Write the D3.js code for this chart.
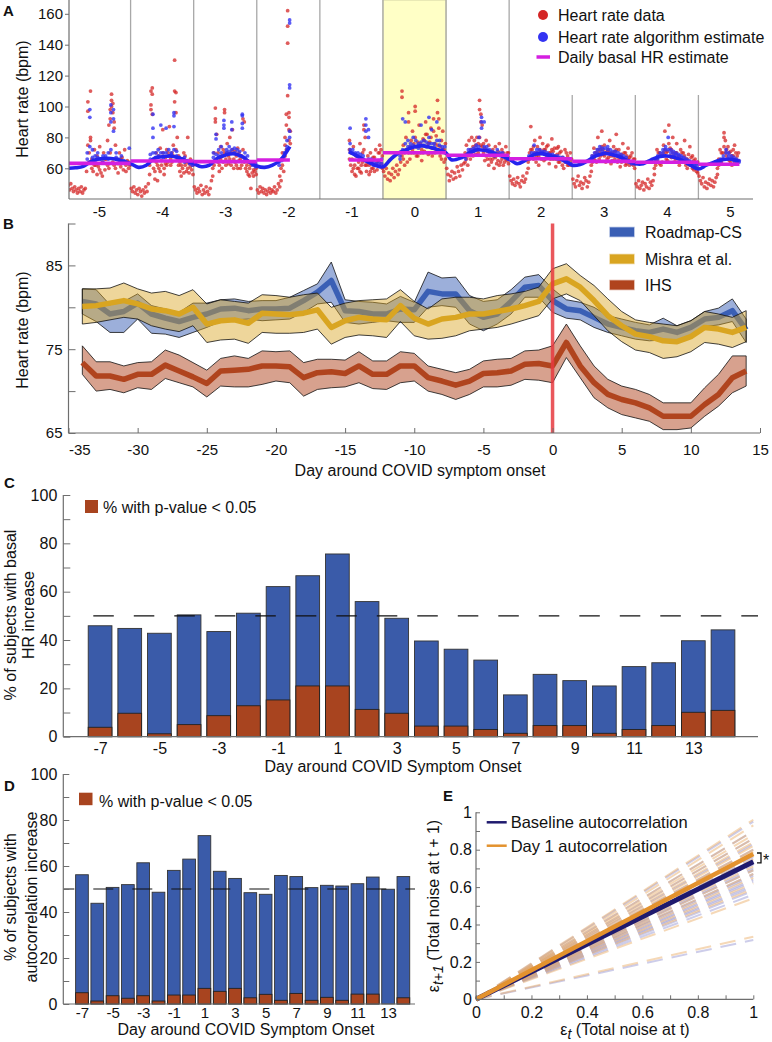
<!DOCTYPE html>
<html><head><meta charset="utf-8">
<script src="https://cdn.jsdelivr.net/npm/d3@7"></script>
<style>
body{margin:0;background:#fff}
svg{display:block}
text{font-family:"Liberation Sans",Arial,Helvetica,sans-serif;fill:#111}
</style></head>
<body><svg id="c" width="772" height="1042"></svg>
<script>
const N = null;
// ---------------- Panel A data ----------------
const aDays = [-5,-4,-3,-2,-1,0,1,2,3,4,5];
const aRedStart = [0,0,0,0,22,0,0,0,0,0,0];           // first half-hour slot of each day
const aRed = [
 [49,46,50,47,45,48,46,44,47,45,48,44,46,47,58,[103,97,75],[70,64],[110,80,78],[66,60],58,[72,62],62,[56,68],61,[74,59],57,[64,55],70,[59,66],66,[78,62],[88,60],[98,92,70],[108,104,100],[102,96,64],[90,86,62],[75,60],66,[63,57],70,[61,66],67,[59,64],72,[62,58],65,[60,64],62],
 [47,45,48,44,46,43,47,45,42,46,44,48,45,50,[62,56],[110,101,98],[112,108,95],[66,60],[53,58],[70,64],[62,52],[68,60],[73,58],[65,62],[85,70],[60,56],[67,63],[72,62],[64,70],[87,68],[66,62],[70,64],[75,68],[130,110,103],[109,96,72],[80,66],[68,62],[58,64],[55,62],[66,60],[70,57],[62,68],[58,64],[80,60],[63,57],[66,61],[59,64],[62,56]],
 [48,46,44,47,45,49,43,46,44,48,45,43,47,52,[60,55],[70,62],[99,92,90],[82,66],[64,70],[62,58],[74,66],[60,68],[72,64],[98,96,70],[66,62],[76,70],[63,68],[80,66],[70,62],[85,72],[66,60],[71,64],[62,68],[73,60],[65,70],[60,66],[68,62],[92,72],[90,64],[66,60],[58,62],[64,56],[60,55],[47,62],[57,63],[59,55],[62,58],[56,60]],
 [46,44,48,45,47,44,46,43,45,47,44,46,45,48,44,46,50,[55,48],[60,52],[62,70],[66,58],[75,80,68],[88,95,72],[162,152,141,107],[96,93,85,78],[84,76]],
 [[78,72,66],[70,62],[58,66],[74,60],[62,56],[55,68],[68,60],[60,64],[76,58],[57,62],[64,70],[85,88,72],[80,62],[62,58],[68,64],[56,62],[70,58],[64,60],[60,67],[67,58],[72,62],[59,64],[65,70],[70,75],[63,72],[68,60]],
 [58,55,60,53,57,52,56,60,54,58,62,56,59,64,[110,106,68],[75,66],[62,70],[80,72],[72,64],[96,90,70],[66,74],[78,70],[84,72],[70,76],[100,97,80],[74,68],[68,77],[88,74],[76,70],[65,72],[79,70],[71,78],[90,82],[82,74],[69,76],[77,70],[86,80],[73,68],[92,84],[70,76],[81,72],[104,96,75],[92,86],[68,74],[78,66],[84,72],[72,64],[76,66]],
 [60,56,52,55,58,53,57,54,61,58,55,62,59,63,[70,64],[75,66],[68,62],[78,70],[66,72],[80,69],[74,68],[72,78],[69,75],[80,72],[76,70],[104,98,80],[95,90,75],[88,74],[76,70],[65,73],[78,68],[71,66],[62,75],[66,70],[70,64],[72,66],[60,68],[67,74],[63,69],[65,71],[76,62],[69,64],[72,66],[62,70],[68,64],[74,66],[65,70],[70,63]],
 [55,52,50,53,49,51,54,50,48,52,55,51,53,57,[64,60],[70,66],[87,72],[72,68],[66,74],[78,70],[68,64],[74,70],[62,68],[80,72],[70,66],[76,70],[65,72],[72,66],[68,74],[75,69],[63,70],[70,66],[79,72],[66,71],[73,68],[61,66],[69,73],[74,64],[64,70],[71,66],[67,62],[60,66],[72,64],[65,70],[68,62],[62,66],[70,64],[66,62]],
 [53,50,48,52,55,49,51,47,50,54,52,48,51,55,[62,58],[68,64],[73,66],[65,70],[70,64],[80,72],[66,70],[72,68],[84,74],[69,72],[75,68],[64,70],[71,66],[67,72],[78,70],[63,68],[70,65],[74,68],[66,71],[82,72],[68,64],[72,66],[61,68],[69,64],[76,66],[65,70],[70,62],[63,68],[73,66],[67,62],[64,68],[70,63],[62,66],[66,60]],
 [50,48,52,47,49,51,46,50,48,53,47,51,49,52,[60,56],[66,62],[72,66],[64,70],[70,63],[62,68],[68,64],[75,70],[84,72],[66,70],[71,65],[88,76],[73,68],[67,72],[80,70],[64,68],[70,66],[76,70],[68,64],[62,68],[72,66],[65,70],[70,64],[78,68],[66,62],[60,66],[69,64],[74,62],[63,67],[68,60],[65,59],[61,66],[58,63],[64,57]],
 [55,52,50,54,48,51,47,50,53,49,52,48,51,54,[60,56],[66,62],[72,64],[64,70],[70,66],[83,80,74],[78,70],[68,72],[74,66],[65,70],[71,64],[62,68],[68,72],[75,64],[66,70],[63,68],[70,65]]
];
const aBlueStart = [7,7,7,8,11,6,7,7,7,7,7];            // first hourly slot of each day
const aBlue = [
 [[66,70],[98,93,74],[72,67],[65,68],[67,70],66,[64,68],68,[70,66],[101,96,90,72],[98,92,84],[70,67],66,[65,68],65,64,[63,73]],
 [[66,69],[95,86,80,70],[70,67],[72,68],[88,70],[70,67],[86,70],[72,68],[70,69],[96,94,87,72],[71,68],[67,65],66,[64,67],65,63,[64,62]],
 [[67,70],[82,79,69],[72,68],[70,74],[91,88,86],[72,70],[74,71],[90,85,72],[73,70],[72,69],[71,68],[95,94,89,86],[70,67],[68,65],64,62,[61,63]],
 [[62,64],[66,65],[70,68],[74,78,72],[156,154,114,112,84,80]],
 [[86,76,72],[72,70],[70,69],[68,70],[67,69],[66,68],[92,88,84],[85,80,66],[66,64],[64,62],[63,62],[62,64],[63,66]],
 [[68,66],[92,72],[90,76],[74,78],[76,74],[80,75],[78,74],[76,73],[88,77],[75,78],[77,74],[93,80,76],[85,76],[76,74],[90,78],[78,75],[72,74],[74,70]],
 [[66,68],[70,72],[72,71],[71,73],[73,75],[80,74],[93,90,86],[90,74],[74,72],[72,70],[71,69],[70,68],[72,69],[69,70],[70,68],[68,67],[67,66]],
 [[68,66],[70,68],[75,70],[72,70],[70,72],[71,70],[69,71],[70,68],[68,69],[69,67],[67,68],[68,66],[66,67],[67,65],[65,64],64,63],
 [[66,68],[68,70],[70,72],[72,74],[71,73],[73,70],[72,74],[70,72],[71,69],[69,71],[68,70],[67,69],[66,68],[67,65],[65,64],[64,63],63],
 [[64,66],[66,68],[68,70],[70,72],[74,72],[80,72],[70,72],[71,69],[69,70],[68,69],[67,68],[66,67],[65,66],[64,65],[63,64],[62,63],[60,62]],
 [[63,65],[64,66],[66,68],[72,70],[68,70],[66,68],[65,67],[66,64],[64,65]]
];
const aTrend = [   // smooth algorithm estimate: [hour, bpm]
 [[0,60],[3,60.3],[6,61.2],[9,64.5],[12,66],[15,66.5],[18,66],[21,64.5],[24,63]],
 [[3,60.6],[6,62],[9,66.5],[12,67.5],[15,68],[18,67],[21,65],[24,63]],
 [[3,61],[6,62],[9,66.5],[12,68.5],[15,69.4],[18,68],[21,64.3],[24,61.5]],
 [[3,60.6],[6,62],[9,65.4],[11,69.8],[12.6,74]],
 [[11,70.8],[14,68],[18,64.3],[21,62],[24,61]],
 [[3,66],[6,70],[9,72],[12,74],[15,74.5],[18,73.5],[21,72],[24,70]],
 [[2,65.5],[6,67],[9,70],[12,72],[15,71.5],[18,70],[21,68],[24,66]],
 [[3,63],[6,65],[9,68.5],[12,69.5],[15,68.5],[18,67],[21,65],[24,62]],
 [[3,62.5],[6,65],[9,68],[12,69.5],[15,69],[18,67.5],[21,65],[24,63]],
 [[3,63],[6,65.5],[9,67.5],[12,68],[15,67],[18,65],[21,62],[24,59.5]],
 [[3,62],[6,64],[9,65.5],[12,66],[15.6,64.5]]
];
const aBasal = [63.2,64.7,64.3,65.4,65.4,70.1,68.4,66.2,64.5,63.9,62.6];
const aBasalFrom = [0,0,0,0,11,0,0,0,0,0,0];
const aBasalTo = [24,24,24,12.6,24,24,24,24,24,24,15.6];
const aYTicks = [60,80,100,120,140,160];

// ---------------- Panel B data ----------------
const bDays = d3.range(-34,15);
const roadmapMean = [80.7,80.4,79.2,79.5,80.5,79.2,78.7,78.3,78.8,79.2,79.8,79.9,79.6,79.8,79.8,79.9,80.8,81.8,83.2,79.6,79.5,79.2,79.2,79.8,79.7,81.9,81.6,81.6,79.6,78.8,79.2,80.7,82.4,82.6,80.8,79.8,79.6,78.8,78.0,77.6,77.2,77.0,77.4,77.0,77.6,78.6,78.8,79.6,77.3];
const roadmapHi = [82.2,82.1,80.3,80.7,81.6,80.2,79.8,79.4,80.5,80.5,80.9,81.0,80.7,80.8,80.8,81.2,82.0,82.8,85.4,80.9,80.7,80.6,80.4,81.3,80.6,84.2,83.5,83.6,81.4,80.7,80.9,82.1,83.6,83.9,82.2,80.9,80.6,80.0,79.0,78.6,78.2,77.9,78.7,77.8,78.4,79.5,79.9,81.0,78.6];
const roadmapLo = [79.2,78.3,77.0,77.0,78.6,76.9,76.8,76.4,77.0,77.6,78.3,78.5,78.6,78.4,78.5,78.6,79.4,80.4,80.6,78.2,78.0,78.2,78.4,78.2,78.2,80.0,80.2,80.0,78.0,77.2,78.0,79.2,81.2,81.2,79.4,78.7,78.5,77.6,77.0,76.6,76.2,76.0,76.1,76.0,76.7,77.7,77.9,78.3,75.8];
const mishraMean = [80.1,80.2,80.5,80.8,80.4,79.8,79.6,79.2,80.0,78.0,78.4,78.5,78.1,79.3,79.2,79.1,79.3,79.7,77.6,78.4,78.8,78.6,78.5,80.2,78.7,78.0,78.6,78.8,79.2,79.2,79.5,79.8,80.2,80.7,82.8,83.4,82.4,80.8,79.0,77.8,76.8,76.5,76.0,75.9,76.5,77.6,77.4,77.0,77.6];
const mishraHi = [82.2,82.2,82.3,82.9,82.2,81.7,81.9,81.4,82.1,80.4,80.9,80.7,80.5,81.5,81.4,81.2,81.5,81.7,80.0,80.5,80.8,80.9,81.0,82.1,80.7,79.8,81.0,81.2,81.2,81.0,81.4,81.6,81.9,82.4,84.6,85.2,83.8,82.6,81.0,79.5,78.5,78.2,78.0,77.8,78.4,79.5,79.2,78.8,79.6];
const mishraLo = [78.0,78.2,78.5,78.8,78.6,77.8,77.4,77.1,77.8,75.8,76.1,76.2,75.7,77.0,76.9,76.9,77.0,77.4,75.6,76.4,76.7,76.6,76.4,78.3,76.6,76.2,76.3,76.6,77.2,77.4,77.6,78.0,78.5,79.0,81.0,81.6,80.8,79.0,77.2,75.9,74.9,74.6,73.9,74.1,74.7,75.8,75.6,75.2,75.9];
const ihsMean = [73.4,71.8,71.8,71.4,72.0,72.0,73.1,72.4,71.7,70.9,72.4,72.5,72.6,73.0,73.0,72.9,71.6,72.2,72.3,72.1,73.0,72.0,72.0,73.0,73.0,71.6,71.2,70.7,71.2,72.1,72.2,72.4,73.2,73.3,73.0,75.8,73.0,71.0,69.6,69.0,68.6,68.0,67.0,67.0,67.0,68.4,69.6,71.6,72.4];
const ihsHi = [75.4,73.5,73.5,73.0,73.4,73.5,74.9,74.3,73.4,72.5,73.9,74.2,73.9,74.8,74.7,74.8,73.4,73.8,73.8,73.7,74.7,73.6,73.6,74.7,74.5,73.0,72.6,72.2,72.6,73.6,73.8,73.9,74.8,74.9,75.4,78.0,75.4,73.0,71.4,70.6,70.2,69.6,68.6,68.6,68.6,70.4,72.0,74.2,74.2];
const ihsLo = [72.0,70.0,70.2,69.8,70.4,70.2,71.5,71.0,70.5,69.3,70.6,70.5,70.5,70.8,71.2,71.0,69.4,70.2,70.4,70.5,71.0,70.3,70.2,71.0,71.2,70.0,69.6,69.0,69.6,70.5,70.5,70.7,71.4,71.3,71.0,74.0,71.6,69.2,68.0,67.2,66.8,66.4,65.4,65.4,65.6,67.0,68.2,69.8,70.6];
const bSeriesNames = ["Roadmap-CS","Mishra et al.","IHS"];
const bColors = ["#3a5fb5","#d9a521","#b0441e"];
const bBandOpacity = [0.5,0.45,0.5];

// ---------------- Panel C data ----------------
const cDays = d3.range(-7,15);
const cTotal = [45.9,44.8,42.8,50.4,43.5,51.1,62.1,66.6,75.6,55.9,49.0,39.6,36.2,31.7,17.3,25.8,23.2,21.0,29.0,30.6,39.7,44.2];
const cSig = [3.9,9.7,1.2,5.0,8.7,12.8,15.2,21.0,21.0,11.3,9.7,4.4,4.4,3.0,1.4,4.6,4.6,1.4,3.0,4.6,10.1,10.9];

// ---------------- Panel D data ----------------
const dDays = d3.range(-7,15);
const dTotal = [56.2,43.8,50.7,51.9,61.4,48.6,58.1,63.0,73.2,57.7,54.6,48.4,47.7,55.9,55.4,50.6,51.6,51.3,52.3,55.2,49.9,55.4];
const dSig = [4.9,1.3,3.6,2.5,3.6,1.3,3.9,3.9,6.8,5.5,6.8,2.7,4.2,1.6,4.6,1.6,2.9,1.6,4.3,4.3,0,2.7];
const oddTicks = [-7,-5,-3,-1,1,3,5,7,9,11,13];

// ---------------- Panel E data ----------------
const eBaselineSlopes = [0.95,0.90,0.86,0.83,0.80,0.78,0.76,0.74,0.72,0.70,0.69,0.67,0.66,0.64,0.63,0.61,0.60,0.58,0.56,0.317];
const eDay1Slopes = [0.96,0.93,0.90,0.88,0.86,0.84,0.82,0.80,0.79,0.77,0.75,0.73,0.71,0.69,0.67,0.65,0.62,0.59,0.54,0.335];
const eBaselineMean = 0.735;
const eDay1Mean = 0.777;

// ================= drawing =================
const svg = d3.select('#c');
const AX = '#6e6e6e';
const FS = 15;
const hy = d => String(d);   // plain hyphen-minus like the original

function styleAxis(g, fs){
  g.select('.domain').remove();
  g.selectAll('.tick line').attr('stroke',AX).attr('stroke-width',1);
  g.selectAll('.tick text').attr('font-size',fs).attr('fill','#111')
   .style('font-family','"Liberation Sans",Arial,sans-serif');
}
function hline(x1,x2,y){ svg.append('line').attr('x1',x1).attr('x2',x2).attr('y1',y).attr('y2',y).attr('stroke',AX).attr('stroke-width',1.2); }
function vline(x,y1,y2){ svg.append('line').attr('x1',x).attr('x2',x).attr('y1',y1).attr('y2',y2).attr('stroke',AX).attr('stroke-width',1.2); }
function label(x,y,s,opt={}){
  const t = svg.append('text').attr('x',x).attr('y',y).text(s)
    .attr('font-size',opt.fs||16).attr('text-anchor',opt.anchor||'start');
  if(opt.bold) t.attr('font-weight','bold');
  if(opt.rot) t.attr('transform',`rotate(-90,${x},${y})`);
  if(opt.dy) t.attr('dy',opt.dy);
  return t;
}

// ---------- Panel A ----------
const xA = d3.scaleLinear().domain([-5.5,5.5]).range([67.5,761.5]);
const yA = d3.scaleLinear().domain([60,160]).range([168.3,13.8]);
svg.append('defs').append('clipPath').attr('id','clipA').append('rect')
   .attr('x',69).attr('y',0).attr('width',700).attr('height',199);
const gA = svg.append('g');
gA.append('rect').attr('x',xA(-0.5)).attr('y',0).attr('width',xA(0.5)-xA(-0.5)).attr('height',199)
  .attr('fill','#ffffc6').attr('stroke','#d4d4a4').attr('stroke-width',1);
const bounds = aDays.slice(1).map(d=>d-0.5);
bounds.forEach(b=>{
  gA.append('line').attr('x1',xA(b)).attr('x2',xA(b)).attr('y1', b>2 ? 95 : 0).attr('y2',199)
    .attr('stroke','#a8a8a8').attr('stroke-width',1.3);
});
function flatten(arr, start, perHour, day){
  const out=[];
  arr.forEach((v,i)=>{
    if(v===null) return;
    const h = (start+i+0.5)/perHour;
    (Array.isArray(v)?v:[v]).forEach(val=>out.push({x:day-0.5+h/24, v:val}));
  });
  return out;
}
let redPts=[], bluePts=[];
aDays.forEach((d,i)=>{
  redPts = redPts.concat(flatten(aRed[i], aRedStart[i], 2, d));
  bluePts = bluePts.concat(flatten(aBlue[i], aBlueStart[i], 1, d));
});
const gClip = gA.append('g').attr('clip-path','url(#clipA)');
gClip.selectAll('circle.r').data(redPts).join('circle').attr('class','r')
  .attr('cx',p=>xA(p.x)).attr('cy',p=>yA(p.v)).attr('r',1.9).attr('fill','#d42626').attr('fill-opacity',0.75);
gClip.selectAll('circle.b').data(bluePts).join('circle').attr('class','b')
  .attr('cx',p=>xA(p.x)).attr('cy',p=>yA(p.v)).attr('r',1.9).attr('fill','#3333f2').attr('fill-opacity',0.8);
const seg1=[], seg2=[];
aDays.forEach((d,i)=>{
  aTrend[i].forEach(([h,v])=>{ (d<=-2?seg1:seg2).push({x:d-0.5+h/24,v}); });
});
const trendLine = d3.line().x(p=>xA(p.x)).y(p=>yA(p.v)).curve(d3.curveCatmullRom);
[seg1,seg2].forEach(s=>gClip.append('path').attr('d',trendLine(s)).attr('fill','none')
  .attr('stroke','#2424ee').attr('stroke-width',3.6));
aDays.forEach((d,i)=>{
  gClip.append('line').attr('x1',xA(d-0.5+aBasalFrom[i]/24)).attr('x2',xA(d-0.5+aBasalTo[i]/24))
   .attr('y1',yA(aBasal[i])).attr('y2',yA(aBasal[i])).attr('stroke','#d41fe0').attr('stroke-width',3.6);
});
vline(69,0,199); hline(69,753,199);
const axAy = svg.append('g').attr('transform','translate(69,0)')
  .call(d3.axisLeft(yA).tickValues(aYTicks).tickSize(4).tickPadding(2).tickFormat(hy));
styleAxis(axAy,FS);
const axAx = svg.append('g').attr('transform','translate(0,199)')
  .call(d3.axisBottom(xA).tickValues(aDays).tickSize(0).tickPadding(7).tickFormat(hy));
styleAxis(axAx,FS);
label(28,99,'Heart rate (bpm)',{rot:true,anchor:'middle',fs:16});
label(3,16,'A',{bold:true,fs:15});
svg.append('circle').attr('cx',543).attr('cy',15).attr('r',5).attr('fill','#d42626');
svg.append('circle').attr('cx',543).attr('cy',37).attr('r',5).attr('fill','#3333f2');
svg.append('line').attr('x1',536.5).attr('x2',550).attr('y1',57).attr('y2',57).attr('stroke','#d41fe0').attr('stroke-width',3.5);
label(558,21,'Heart rate data');
label(558,43,'Heart rate algorithm estimate');
label(558,63,'Daily basal HR estimate');

// ---------- Panel B ----------
const xB = d3.scaleLinear().domain([-35,15]).range([68.5,760]);
const yB = d3.scaleLinear().domain([65,90]).range([433,223.5]);
const bData = [[roadmapMean,roadmapLo,roadmapHi],[mishraMean,mishraLo,mishraHi],[ihsMean,ihsLo,ihsHi]];
const gB = svg.append('g');
bData.forEach(([m,lo,hi],k)=>{
  const pts = bDays.map((d,i)=>({d,m:m[i],lo:lo[i],hi:hi[i]}));
  const area = d3.area().x(p=>xB(p.d)).y0(p=>yB(p.lo)).y1(p=>yB(p.hi));
  gB.append('path').attr('d',area(pts)).attr('fill',bColors[k]).attr('fill-opacity',bBandOpacity[k])
    .attr('stroke','#111').attr('stroke-width',0.8).attr('stroke-linejoin','round');
  gB.append('path').attr('d',d3.line().x(p=>xB(p.d)).y(p=>yB(p.m))(pts))
    .attr('fill','none').attr('stroke',bColors[k]).attr('stroke-width',5.5).attr('stroke-linejoin','round');
});
gB.append('line').attr('x1',xB(0)).attr('x2',xB(0)).attr('y1',yB(90)).attr('y2',yB(65))
  .attr('stroke','#e6393f').attr('stroke-opacity',0.85).attr('stroke-width',3.5);
vline(68.5,223.5,433); hline(68.5,760,433);
const axBy = svg.append('g').attr('transform','translate(68.5,0)')
  .call(d3.axisLeft(yB).tickValues([65,70,75,80,85,90]).tickSize(-7).tickPadding(6)
    .tickFormat(d=>[65,75,85].includes(d)?String(d):''));
styleAxis(axBy,FS);
const axBx = svg.append('g').attr('transform','translate(0,433)')
  .call(d3.axisBottom(xB).tickValues(d3.range(-35,16,5)).tickSize(-5).tickPadding(11).tickFormat(hy));
styleAxis(axBx,FS);
axBx.selectAll('.tick text').filter(d=>d===-35).attr('text-anchor','start');
label(28,330,'Heart rate (bpm)',{rot:true,anchor:'middle',fs:16});
label(420,476,'Day around COVID symptom onset',{anchor:'middle',fs:16});
label(3,229,'B',{bold:true,fs:15});
bSeriesNames.forEach((n,k)=>{
  const y=[232,259,285][k];
  svg.append('rect').attr('x',610).attr('y',y-4.5).attr('width',24).attr('height',9)
    .attr('fill',bColors[k]).attr('stroke',bColors[k]).attr('stroke-opacity',0.45).attr('stroke-width',1.5);
  label(645,y+6,n);
});

// ---------- Panel C ----------
const xC = d3.scaleLinear().domain([-8.24,15.18]).range([63.3,758]);
const yC = d3.scaleLinear().domain([0,100]).range([736.7,495]);
const bwC = (xC(1)-xC(0))*0.8;
const gC = svg.append('g');
gC.selectAll('rect.t').data(cDays).join('rect').attr('class','t')
  .attr('x',d=>xC(d)-bwC/2).attr('width',bwC).attr('y',(d,i)=>yC(cTotal[i])).attr('height',(d,i)=>yC(0)-yC(cTotal[i]))
  .attr('fill','#3a5ba9').attr('stroke','#333').attr('stroke-width',0.9);
gC.selectAll('rect.s').data(cDays).join('rect').attr('class','s')
  .attr('x',d=>xC(d)-bwC/2).attr('width',bwC).attr('y',(d,i)=>yC(cSig[i])).attr('height',(d,i)=>yC(0)-yC(cSig[i]))
  .attr('fill','#a8441f').attr('stroke','#222').attr('stroke-width',0.9);
gC.append('line').attr('x1',xC.range()[0]+30).attr('x2',xC.range()[1]).attr('y1',yC(50)).attr('y2',yC(50))
  .attr('stroke','#111').attr('stroke-width',1.2).attr('stroke-dasharray','20.5,20');
vline(63.3,495,736.7); hline(63.3,758,736.7);
const axCy = svg.append('g').attr('transform','translate(63.3,0)')
  .call(d3.axisLeft(yC).tickValues(d3.range(0,101,10)).tickSize(-7).tickPadding(6)
    .tickFormat(d=>d%20===0?String(d):''));
styleAxis(axCy,16);
const axCx = svg.append('g').attr('transform','translate(0,736.7)')
  .call(d3.axisBottom(xC).tickValues(oddTicks).tickSize(0).tickPadding(6).tickFormat(hy));
styleAxis(axCx,16);
label(10,615,'% of subjects with basal',{rot:true,anchor:'middle',dy:'0.35em'});
label(28,615,'HR increase',{rot:true,anchor:'middle',dy:'0.35em'});
label(393,772,'Day around COVID Symptom Onset',{anchor:'middle'});
label(4,488,'C',{bold:true,fs:15});
svg.append('rect').attr('x',85).attr('y',500).attr('width',13).attr('height',13).attr('fill','#a8441f');
label(103,513,'% with p-value < 0.05');

// ---------- Panel D ----------
const xD = d3.scaleLinear().domain([-8.22,14.76]).range([63.3,415]);
const yD = d3.scaleLinear().domain([0,100]).range([1004,774]);
const bwD = (xD(1)-xD(0))*0.83;
const gD = svg.append('g');
gD.selectAll('rect.t').data(dDays).join('rect').attr('class','t')
  .attr('x',d=>xD(d)-bwD/2).attr('width',bwD).attr('y',(d,i)=>yD(dTotal[i])).attr('height',(d,i)=>yD(0)-yD(dTotal[i]))
  .attr('fill','#3a5ba9').attr('stroke','#333').attr('stroke-width',0.9);
gD.selectAll('rect.s').data(dDays).join('rect').attr('class','s')
  .attr('x',d=>xD(d)-bwD/2).attr('width',bwD).attr('y',(d,i)=>yD(dSig[i])).attr('height',(d,i)=>yD(0)-yD(dSig[i]))
  .attr('fill','#a8441f').attr('stroke','#222').attr('stroke-width',0.9);
gD.append('line').attr('x1',xD.range()[0]).attr('x2',xD.range()[1]).attr('y1',yD(50)).attr('y2',yD(50))
  .attr('stroke','#111').attr('stroke-width',1.2).attr('stroke-dasharray','20,19').attr('stroke-dashoffset',9);
vline(63.3,774,1004); hline(63.3,415,1004);
const axDy = svg.append('g').attr('transform','translate(63.3,0)')
  .call(d3.axisLeft(yD).tickValues(d3.range(0,101,10)).tickSize(-6).tickPadding(6)
    .tickFormat(d=>d%20===0?String(d):''));
styleAxis(axDy,16);
const axDx = svg.append('g').attr('transform','translate(0,1004)')
  .call(d3.axisBottom(xD).tickValues(oddTicks).tickSize(0).tickPadding(3).tickFormat(hy));
styleAxis(axDx,15);
label(10,897,'% of subjects with',{rot:true,anchor:'middle',dy:'0.35em'});
label(31,897,'autocorrelation increase',{rot:true,anchor:'middle',dy:'0.35em'});
label(246,1035,'Day around COVID Symptom Onset',{anchor:'middle'});
label(4,791,'D',{bold:true,fs:15});
svg.append('rect').attr('x',79).attr('y',792.7).attr('width',13.5).attr('height',12.5).attr('fill','#a8441f');
label(99,806.5,'% with p-value < 0.05');

// ---------- Panel E ----------
const xE = d3.scaleLinear().domain([0,1]).range([476,753.3]);
const yE = d3.scaleLinear().domain([0,1]).range([999.3,812.3]);
const gE = svg.append('g');
const seg = s => d3.line().x(p=>xE(p[0])).y(p=>yE(p[1]))([[0,0],[1,s]]);
eBaselineSlopes.forEach(s=>gE.append('path').attr('d',seg(s)).attr('stroke','#9c9cd6').attr('stroke-opacity',0.5)
  .attr('stroke-width',2).attr('stroke-dasharray','16,9').attr('fill','none'));
eDay1Slopes.forEach(s=>gE.append('path').attr('d',seg(s)).attr('stroke','#e8a860').attr('stroke-opacity',0.45)
  .attr('stroke-width',2).attr('stroke-dasharray','16,9').attr('fill','none'));
gE.append('path').attr('d',seg(eBaselineMean)).attr('stroke','#1f1a6e').attr('stroke-width',5).attr('fill','none');
gE.append('path').attr('d',seg(eDay1Mean)).attr('stroke','#e3922e').attr('stroke-width',4.5).attr('fill','none');
vline(476,812.3,999.3); hline(476,753.3,999.3);
const tE = d3.range(0,11).map(i=>i/10);
const fmtE = d=>Math.round(d*10)%2===0 ? d3.format('~g')(d) : '';
const axEy = svg.append('g').attr('transform','translate(476,0)')
  .call(d3.axisLeft(yE).tickValues(tE).tickSize(-4).tickPadding(4).tickFormat(fmtE));
styleAxis(axEy,16);
const axEx = svg.append('g').attr('transform','translate(0,999.3)')
  .call(d3.axisBottom(xE).tickValues(tE).tickSize(-4).tickPadding(7).tickFormat(fmtE));
styleAxis(axEx,16);
svg.append('path').attr('d',`M757,${yE(eDay1Mean)-1} H761 V${yE(eBaselineMean)+1} H757`).attr('fill','none').attr('stroke','#111').attr('stroke-width',1.3);
label(763,866,'*',{fs:16});
svg.append('line').attr('x1',486.7).attr('x2',506.7).attr('y1',822.3).attr('y2',822.3).attr('stroke','#1f1a6e').attr('stroke-width',2.5);
svg.append('line').attr('x1',486.7).attr('x2',506.7).attr('y1',845.7).attr('y2',845.7).attr('stroke','#e3922e').attr('stroke-width',2.5);
label(510.7,828,'Baseline autocorrelation',{fs:16.5});
label(510.7,851.5,'Day 1 autocorrelation',{fs:16.5});
label(443,801,'E',{bold:true,fs:15});
const xl = svg.append('text').attr('x',625).attr('y',1035).attr('text-anchor','middle').attr('font-size',16);
xl.append('tspan').text('ε');
xl.append('tspan').attr('font-style','italic').attr('dy',4).attr('font-size',14).text('t');
xl.append('tspan').attr('dy',-4).text(' (Total noise at t)');
const yl = svg.append('text').attr('x',439).attr('y',906).attr('text-anchor','middle').attr('font-size',16)
  .attr('transform','rotate(-90,439,906)');
yl.append('tspan').text('ε');
yl.append('tspan').attr('font-style','italic').attr('dy',4).attr('font-size',14).text('t+1');
yl.append('tspan').attr('dy',-4).text(' (Total noise at t + 1)');
</script>
</body></html>
